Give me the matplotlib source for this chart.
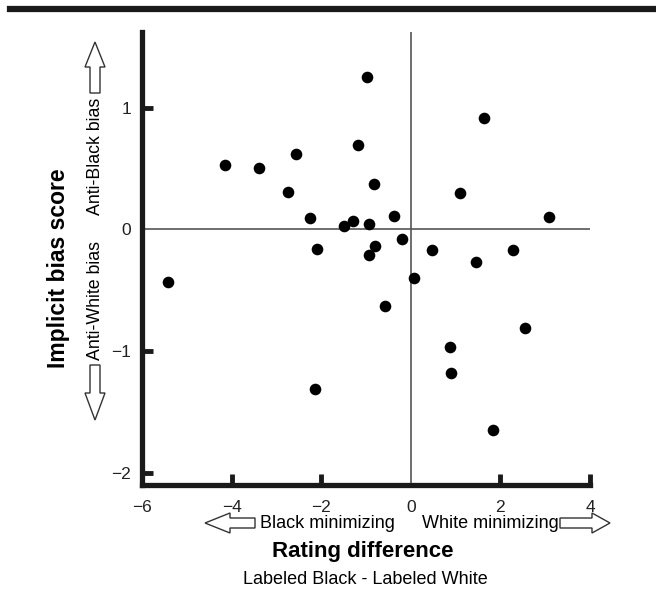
import matplotlib
matplotlib.use("Agg")
import matplotlib.pyplot as plt
from matplotlib.patches import Polygon
from matplotlib.lines import Line2D

plt.rcParams['font.family'] = ['Liberation Sans', 'DejaVu Sans']

# Data: rating difference (x) vs implicit bias score (y)
rating_diff = [-0.98, -1.18, -2.56, -4.15, -3.39, -0.82, -2.73, -2.24, -0.38, -1.48,
               -1.30, -0.93, -0.19, -2.10, -0.81, -0.93, 1.63, 1.10, 3.09, 0.48,
               2.29, 1.46, 0.07, 2.56, 0.88, 0.89, 1.83, -5.42, -0.58, -2.13]
bias_score = [1.25, 0.69, 0.62, 0.53, 0.50, 0.37, 0.31, 0.09, 0.11, 0.03,
              0.07, 0.04, -0.08, -0.16, -0.14, -0.21, 0.91, 0.30, 0.10, -0.17,
              -0.17, -0.27, -0.40, -0.81, -0.97, -1.18, -1.65, -0.43, -0.63, -1.31]
x_ticks = [-6, -4, -2, 0, 2, 4]
y_ticks = [-2, -1, 0, 1]

W, H = 656, 597
fig = plt.figure(figsize=(W / 100, H / 100), dpi=100)

def fx(x):
    return x / W

def fy(y):
    return 1 - y / H

ax = fig.add_axes([fx(142), fy(485), fx(590) - fx(142), fy(32) - fy(485)])
ax.set_xlim(-6, 4)
ax.set_ylim(-2.1, 1.62)

ax.axhline(0, color='#555555', lw=1.2, zorder=1)
ax.axvline(0, color='#555555', lw=1.2, zorder=1)
ax.scatter(rating_diff, bias_score, s=70, color='black', zorder=3, linewidths=0)

for side in ['top', 'right']:
    ax.spines[side].set_visible(False)
for side in ['left', 'bottom']:
    ax.spines[side].set_linewidth(3.8)
    ax.spines[side].set_color('#1a1a1a')

ax.set_xticks(x_ticks)
ax.set_yticks(y_ticks)
ax.set_xticklabels(['\u22126', '\u22124', '\u22122', '0', '2', '4'])
ax.set_yticklabels(['\u22122', '\u22121', '0', '1'])
ax.tick_params(direction='in', length=8, width=3.5, color='#1a1a1a',
               labelsize=12.5, labelcolor='#222222')
ax.tick_params(axis='x', pad=11)
ax.tick_params(axis='y', pad=8)
for t, v in zip(ax.xaxis.get_major_ticks(), x_ticks):
    if v == 0:
        t.tick1line.set_visible(False)
for t, v in zip(ax.yaxis.get_major_ticks(), y_ticks):
    if v == 0:
        t.tick1line.set_visible(False)

# Top rule
fig.add_artist(Line2D([fx(10), 1.0], [fy(9), fy(9)], transform=fig.transFigure,
                      color='#1a1a1a', lw=4.5))

# Axis labels
fig.text(fx(58), fy(268), 'Implicit bias score', rotation=90, ha='center', va='center',
         fontsize=16.5, fontweight='bold')
fig.text(fx(363), fy(551), 'Rating difference', ha='center', va='center',
         fontsize=16, fontweight='bold')
fig.text(fx(365), fy(580), 'Labeled Black - Labeled White', ha='center', va='center',
         fontsize=13)

# Direction labels
fig.text(fx(260), fy(523), 'Black minimizing', ha='left', va='center', fontsize=13)
fig.text(fx(559), fy(523), 'White minimizing', ha='right', va='center', fontsize=13)
fig.text(fx(95), fy(156), 'Anti-Black bias', rotation=90, ha='center', va='center', fontsize=12.8)
fig.text(fx(95), fy(300), 'Anti-White bias', rotation=90, ha='center', va='center', fontsize=12.8)

def arrow_h(tail, base, tip, yc, hw=10, sw=5):
    pts = [(tail, yc - sw), (base, yc - sw), (base, yc - hw), (tip, yc),
           (base, yc + hw), (base, yc + sw), (tail, yc + sw)]
    return [(fx(a), fy(b)) for a, b in pts]

def arrow_v(tail, base, tip, xc, hw=10, sw=5):
    pts = [(xc - sw, tail), (xc - sw, base), (xc - hw, base), (xc, tip),
           (xc + hw, base), (xc + sw, base), (xc + sw, tail)]
    return [(fx(a), fy(b)) for a, b in pts]

for verts in [arrow_h(255, 230, 205, 523), arrow_h(560, 592, 610, 523),
              arrow_v(93, 67, 42, 95), arrow_v(365, 393, 420, 95)]:
    fig.add_artist(Polygon(verts, closed=True, facecolor='white', edgecolor='#333333',
                           lw=1.0, transform=fig.transFigure))

fig.savefig('out.png', dpi=100)
